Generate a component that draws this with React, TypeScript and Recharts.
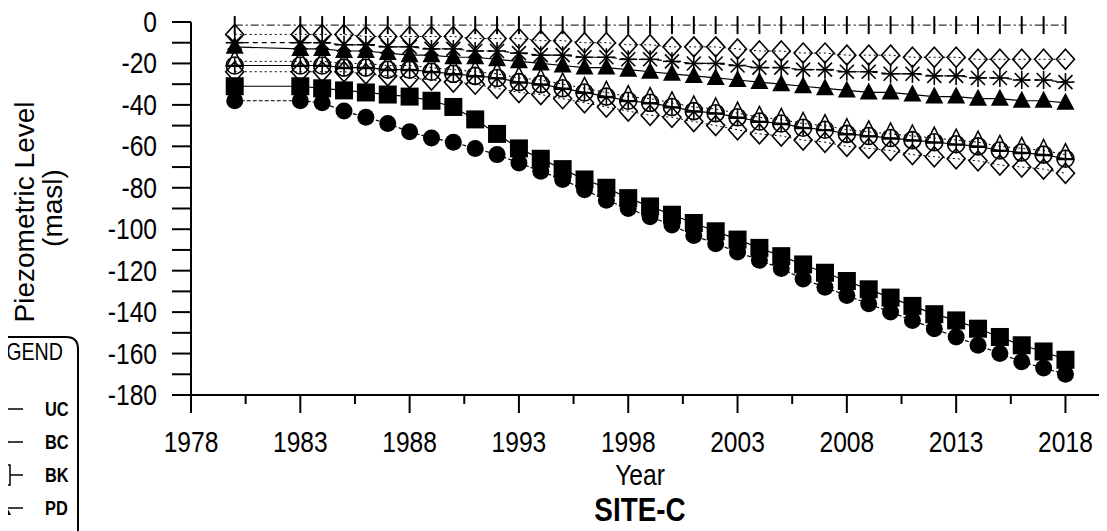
import React from 'react';
import { LineChart, Line, XAxis, YAxis, Legend, Label } from 'recharts';

// years with readings (gap 1981-1982 in the record)
const years = [1980, 1983, 1984, 1985, 1986, 1987, 1988, 1989, 1990, 1991, 1992, 1993, 1994, 1995, 1996, 1997, 1998, 1999, 2000, 2001, 2002, 2003, 2004, 2005, 2006, 2007, 2008, 2009, 2010, 2011, 2012, 2013, 2014, 2015, 2016, 2017, 2018];

const ucLevel = [-1.5, -1.5, -1.5, -1.5, -1.5, -1.5, -1.5, -1.5, -1.5, -1.5, -1.5, -1.5, -1.5, -1.5, -1.5, -1.5, -1.5, -1.5, -1.5, -1.5, -1.5, -1.5, -1.5, -1.5, -1.5, -1.5, -1.5, -1.5, -1.5, -1.5, -1.5, -1.5, -1.5, -1.5, -1.5, -1.5, -1.5];
const upperDiamond = [-6, -6, -6, -6, -7, -7, -7, -7, -7, -8, -8, -8, -9, -9, -10, -10, -11, -11, -12, -12, -12, -13, -14, -14, -15, -15, -16, -16, -16, -17, -17, -17, -18, -18, -18, -18, -18];
const starLevel = [-10, -10, -10, -11, -11, -12, -12, -13, -13, -14, -14, -15, -16, -16, -17, -17, -18, -18, -19, -20, -20, -21, -22, -22, -23, -23, -24, -24, -25, -25, -26, -26, -27, -27, -28, -28, -29];
const pdLevel = [-12, -13, -13, -14, -14, -15, -16, -16, -17, -17, -18, -19, -20, -21, -22, -22, -23, -24, -25, -26, -27, -28, -29, -30, -31, -32, -33, -34, -34, -35, -36, -36, -37, -37, -38, -38, -39];
const openTriangle = [-19, -19, -19, -20, -20, -21, -21, -22, -23, -24, -25, -27, -28, -30, -32, -34, -36, -37, -39, -41, -42, -44, -46, -47, -49, -50, -52, -53, -54, -55, -56, -57, -58, -60, -61, -62, -64];
const crossCircle = [-21, -21, -21, -22, -22, -23, -23, -24, -25, -26, -27, -29, -30, -32, -34, -36, -38, -39, -41, -43, -44, -46, -48, -49, -51, -52, -54, -55, -56, -57, -58, -59, -60, -62, -63, -64, -66];
const lowerDiamond = [-24, -24, -24, -24, -25, -26, -27, -28, -29, -30, -32, -34, -35, -37, -39, -41, -43, -45, -46, -48, -50, -52, -54, -55, -57, -58, -60, -61, -62, -64, -65, -66, -67, -69, -70, -71, -73];
const bkLevel = [-31, -31, -32, -33, -34, -35, -36, -38, -41, -47, -54, -61, -66, -71, -76, -80, -85, -89, -93, -97, -101, -105, -109, -113, -117, -121, -125, -129, -133, -137, -141, -144, -148, -152, -156, -159, -163];
const bcLevel = [-38, -38, -39, -43, -46, -49, -53, -56, -58, -61, -64, -68, -72, -76, -81, -86, -90, -94, -98, -103, -107, -111, -115, -119, -124, -128, -132, -136, -140, -144, -148, -152, -156, -160, -164, -167, -170];

const xTicks = [1978, 1980.5, 1983, 1985.5, 1988, 1990.5, 1993, 1995.5, 1998, 2000.5, 2003, 2005.5, 2008, 2010.5, 2013, 2015.5, 2018];
const xLabelled = [1978, 1983, 1988, 1993, 1998, 2003, 2008, 2013, 2018];
const yTicks = [-180, -170, -160, -150, -140, -130, -120, -110, -100, -90, -80, -70, -60, -50, -40, -30, -20, -10, 0];

const legendOrder = ['UC', 'BC', 'BK', 'PD'];

const data = years.map((year, i) => ({
  year,
  uc: ucLevel[i],
  dUp: upperDiamond[i],
  star: starLevel[i],
  pd: pdLevel[i],
  tri: openTriangle[i],
  cc: crossCircle[i],
  dLow: lowerDiamond[i],
  bk: bkLevel[i],
  bc: bcLevel[i],
}));

const FONT = "'Liberation Sans', Arial, sans-serif";
const INK = '#000';

// condensed text: the scan's lettering is tall and narrow
const Narrow = ({ x, y, anchor = 'start', size, bold, children }: any) => (
  <text
    transform={`translate(${x},${y}) scale(0.82,1)`}
    textAnchor={anchor}
    fontFamily={FONT}
    fontSize={size}
    fontWeight={bold ? 'bold' : 'normal'}
    fill={INK}
  >
    {children}
  </text>
);

const shape = (kind: string, cx: number, cy: number) => {
  switch (kind) {
    case 'tick':
      return <line x1={cx} x2={cx} y1={cy - 9} y2={cy + 9} stroke={INK} strokeWidth={2} />;
    case 'diamond':
      return <polygon points={`${cx},${cy - 10} ${cx + 9},${cy} ${cx},${cy + 10} ${cx - 9},${cy}`} fill="none" stroke={INK} strokeWidth={1.6} />;
    case 'star':
      return (
        <g stroke={INK} strokeWidth={1.6}>
          <line x1={cx - 9} x2={cx + 9} y1={cy} y2={cy} />
          <line x1={cx} x2={cx} y1={cy - 9} y2={cy + 9} />
          <line x1={cx - 7} x2={cx + 7} y1={cy - 7} y2={cy + 7} />
          <line x1={cx - 7} x2={cx + 7} y1={cy + 7} y2={cy - 7} />
        </g>
      );
    case 'triFilled':
      return <polygon points={`${cx},${cy - 10} ${cx + 9},${cy + 7} ${cx - 9},${cy + 7}`} fill={INK} />;
    case 'triOpen':
      return <polygon points={`${cx},${cy - 11} ${cx + 8},${cy + 5} ${cx - 8},${cy + 5}`} fill="none" stroke={INK} strokeWidth={1.5} />;
    case 'crossCircle':
      return (
        <g stroke={INK} strokeWidth={1.6} fill="none">
          <circle cx={cx} cy={cy} r={8.5} />
          <line x1={cx - 8} x2={cx + 8} y1={cy} y2={cy} />
          <line x1={cx} x2={cx} y1={cy - 8} y2={cy + 8} />
        </g>
      );
    case 'square':
      return <rect x={cx - 9} y={cy - 9} width={18} height={18} fill={INK} />;
    case 'squareOpen':
      return <rect x={cx - 8} y={cy - 10} width={16} height={20} fill="#fff" stroke={INK} strokeWidth={1.5} />;
    case 'circle':
      return <circle cx={cx} cy={cy} r={8.5} fill={INK} />;
    case 'circleOpen':
      return <circle cx={cx} cy={cy} r={5.5} fill="#fff" stroke={INK} strokeWidth={1.5} />;
    default:
      return null;
  }
};

const marker = (kind: string) => (props: any) => {
  const { cx, cy, index } = props;
  if (cx == null || cy == null) return <g key={`${kind}-${index}`} />;
  return <g key={`${kind}-${index}`}>{shape(kind, cx, cy)}</g>;
};

const XTick = (props: any) => {
  const { x, y, payload } = props;
  const major = xLabelled.includes(payload.value);
  return (
    <g>
      <line x1={x} x2={x} y1={y} y2={y + (major ? 18 : 9)} stroke={INK} strokeWidth={2} />
      {major && (
        <Narrow x={x} y={y + 57} anchor="middle" size={30}>
          {payload.value}
        </Narrow>
      )}
    </g>
  );
};

const YTick = (props: any) => {
  const { x, y, payload } = props;
  const labelled = payload.value % 20 === 0;
  return (
    <g>
      <line x1={x - 19} x2={x} y1={y} y2={y} stroke={INK} strokeWidth={2} />
      {labelled && (
        <Narrow x={x - 34} y={y + 10} anchor="end" size={30}>
          {payload.value}
        </Narrow>
      )}
    </g>
  );
};

const legendMarks: Record<string, string> = { UC: 'none', BC: 'circleOpen', BK: 'squareOpen', PD: 'triFilled' };

// legend box sits partly outside the page at the left, as in the scan
const renderLegend = (props: any) => {
  const payload: any[] = props.payload || [];
  const rows = legendOrder.map((n) => payload.find((p) => p.value === n)).filter(Boolean);
  return (
    <svg width={200} height={260} style={{ display: 'block', overflow: 'visible' }}>
      <path d="M 1 262 L 1 2 L 187 2 Q 199 2 199 14 L 199 262" fill="#fff" stroke={INK} strokeWidth={2} />
      <Narrow x={184} y={25} anchor="end" size={24}>LEGEND</Narrow>
      {rows.map((p: any, i: number) => {
        const y = 74 + 33 * i;
        return (
          <g key={p.value}>
            <line x1={60} x2={144} y1={y} y2={y} stroke={INK} strokeWidth={1.4} />
            {shape(legendMarks[p.value], 123, y)}
            <Narrow x={166} y={y + 7} size={20} bold>{p.value}</Narrow>
          </g>
        );
      })}
    </svg>
  );
};

const YTitle = () => (
  <g fill={INK} fontFamily={FONT} fontSize={28}>
    <text x={34} y={212} textAnchor="middle" transform="rotate(-90, 34, 212)">Piezometric Level</text>
    <text x={62} y={208} textAnchor="middle" transform="rotate(-90, 62, 208)">(masl)</text>
  </g>
);

const XTitle = () => (
  <g>
    <Narrow x={640} y={485} anchor="middle" size={30}>Year</Narrow>
    <Narrow x={640} y={521} anchor="middle" size={34} bold>SITE-C</Narrow>
  </g>
);

const App = () => (
  <div style={{ position: 'relative', width: 1107, height: 531, margin: '-8px 0 0 -8px', overflow: 'hidden', background: '#fff' }}>
    <LineChart width={1107} height={531} data={data} margin={{ top: 22, right: 0, bottom: 76, left: 0 }}>
      <XAxis
        dataKey="year"
        type="number"
        domain={[1978, 2019.9]}
        ticks={xTicks}
        interval={0}
        height={60}
        tickSize={0}
        tickMargin={0}
        tickLine={false}
        axisLine={{ stroke: INK, strokeWidth: 2 }}
        tick={<XTick />}
      >
        <Label content={<XTitle />} />
      </XAxis>
      <YAxis
        type="number"
        domain={[-180, 0]}
        ticks={yTicks}
        interval={0}
        width={191}
        tickSize={0}
        tickMargin={0}
        tickLine={false}
        axisLine={{ stroke: INK, strokeWidth: 2 }}
        tick={<YTick />}
      >
        <Label content={<YTitle />} />
      </YAxis>
      <Legend
        layout="vertical"
        align="center"
        verticalAlign="middle"
        content={renderLegend}
        wrapperStyle={{ left: -121, top: 335, width: 200, height: 260, margin: 0, padding: 0 }}
      />
      <Line dataKey="uc" name="UC" stroke={INK} strokeWidth={1} strokeDasharray="8 3 2 3" dot={marker('tick')} activeDot={false} isAnimationActive={false} />
      <Line dataKey="dUp" legendType="none" stroke={INK} strokeWidth={1} strokeDasharray="2 3" dot={marker('diamond')} activeDot={false} isAnimationActive={false} />
      <Line dataKey="star" legendType="none" stroke={INK} strokeWidth={1.2} strokeDasharray="5 4" dot={marker('star')} activeDot={false} isAnimationActive={false} />
      <Line dataKey="pd" name="PD" stroke={INK} strokeWidth={1.2} dot={marker('triFilled')} activeDot={false} isAnimationActive={false} />
      <Line dataKey="tri" legendType="none" stroke={INK} strokeWidth={1} strokeDasharray="2 3" dot={marker('triOpen')} activeDot={false} isAnimationActive={false} />
      <Line dataKey="cc" legendType="none" stroke={INK} strokeWidth={1.2} dot={marker('crossCircle')} activeDot={false} isAnimationActive={false} />
      <Line dataKey="dLow" legendType="none" stroke={INK} strokeWidth={1} strokeDasharray="2 3" dot={marker('diamond')} activeDot={false} isAnimationActive={false} />
      <Line dataKey="bk" name="BK" stroke={INK} strokeWidth={1.2} dot={marker('square')} activeDot={false} isAnimationActive={false} />
      <Line dataKey="bc" name="BC" stroke={INK} strokeWidth={1.2} strokeDasharray="4 2" dot={marker('circle')} activeDot={false} isAnimationActive={false} />
    </LineChart>
  </div>
);

export default App;
